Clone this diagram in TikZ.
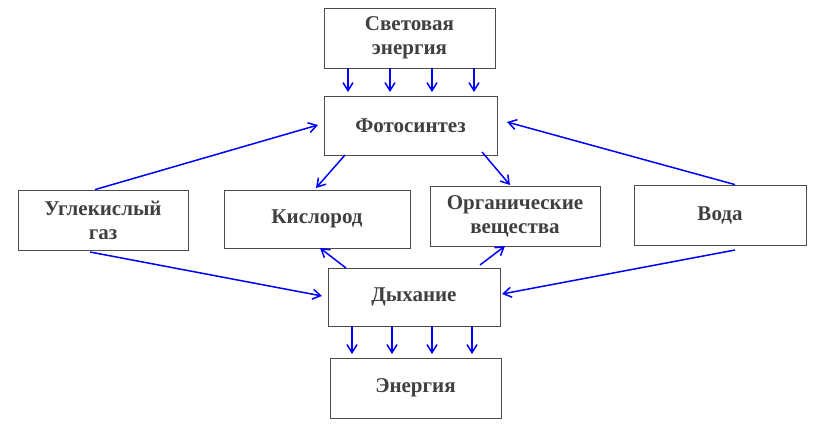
\documentclass[tikz,border=0pt]{standalone}
\usepackage{fontspec}
\setmainfont{Liberation Serif}
\usetikzlibrary{arrows.meta}
\begin{document}
\begin{tikzpicture}[x=1pt,y=-1pt,
  box/.style={draw=black!70,line width=0.8pt,fill=white,align=center,font=\fontsize{21}{24}\selectfont\bfseries,text=black!75,inner sep=0pt},
  arr/.style={draw=blue,line width=1.5pt,-{Straight Barb[length=8pt,width=10pt]}}]
\useasboundingbox (0,0) rectangle (829,436);
\newcommand\bx[6]{\node[box,minimum width=#4-#2,minimum height=#5-#3] (#1) at ({(#2+#4)/2},{(#3+#5)/2}) {#6};}
\bx{sv}{324}{8}{495}{68}{Световая\\энергия}
\bx{fo}{324}{96}{497}{155}{Фотосинтез}
\bx{ug}{18}{190}{188}{250}{Углекислый\\газ}
\bx{ki}{224}{190}{410}{248}{Кислород}
\bx{or}{430}{186}{600}{246}{Органические\\вещества}
\bx{vo}{634}{185}{806}{245}{Вода}
\bx{dy}{328}{268}{500}{326}{Дыхание}
\bx{en}{330}{358}{501}{418}{Энергия}
\foreach \x in {348,390,432,474} {
  \coordinate (a) at (\x,68); \coordinate (b) at (\x,92);
  \draw[arr] (a) -- (b);}
\foreach \x in {352,392,432,472} {
  \coordinate (a) at (\x,326); \coordinate (b) at (\x,354);
  \draw[arr] (a) -- (b);}
\draw[arr] (ug.north -| 95,0) -- (318,125);
\draw[arr] (vo.north -| 735,0) -- (507,122);
\draw[arr] (345,155) -- (316,188);
\draw[arr] (482,152) -- (510,185);
\draw[arr] (90,252) -- (322,296);
\draw[arr] (735,250) -- (502,294);
\draw[arr] (346,268) -- (320,248);
\draw[arr] (480,265) -- (505,246);
\end{tikzpicture}
\end{document}
